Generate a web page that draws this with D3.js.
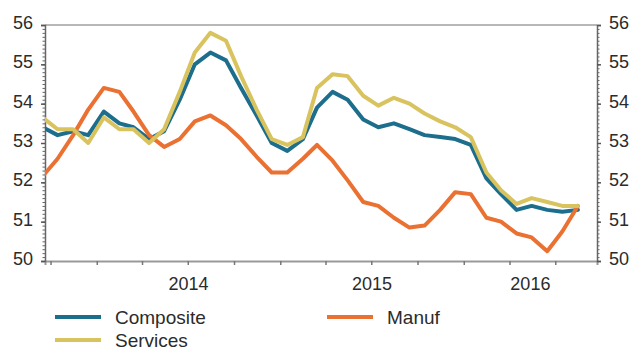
<!DOCTYPE html>
<html>
<head>
<meta charset="utf-8">
<script src="https://cdn.jsdelivr.net/npm/d3@7/dist/d3.min.js"></script>
<style>
  html, body { margin: 0; padding: 0; background: #fff; }
  svg { display: block; }
  text { font-family: "Liberation Sans", Arial, sans-serif; fill: #2b2b2b; }
</style>
</head>
<body>
<svg id="chart" width="635" height="352"></svg>
<script>
// Monthly PMI readings, Sep 2013 – Aug 2016
const months = [
  "2013-09","2013-10","2013-11","2013-12",
  "2014-01","2014-02","2014-03","2014-04","2014-05","2014-06",
  "2014-07","2014-08","2014-09","2014-10","2014-11","2014-12",
  "2015-01","2015-02","2015-03","2015-04","2015-05","2015-06",
  "2015-07","2015-08","2015-09","2015-10","2015-11","2015-12",
  "2016-01","2016-02","2016-03","2016-04","2016-05","2016-06",
  "2016-07","2016-08"
];
const composite = [
  53.4, 53.2, 53.3, 53.2,
  53.8, 53.5, 53.4, 53.1, 53.3, 54.1,
  55.0, 55.3, 55.1, 54.4, 53.7, 53.0,
  52.8, 53.1, 53.9, 54.3, 54.1, 53.6,
  53.4, 53.5, 53.35, 53.2, 53.15, 53.1,
  52.95, 52.1, 51.7, 51.3, 51.4, 51.3,
  51.25, 51.3
];
const manuf = [
  52.15, 52.6, 53.2, 53.85,
  54.4, 54.3, 53.8, 53.2, 52.9, 53.1,
  53.55, 53.7, 53.45, 53.1, 52.65, 52.25,
  52.25, 52.6, 52.95, 52.55, 52.05, 51.5,
  51.4, 51.1, 50.85, 50.9, 51.3, 51.75,
  51.7, 51.1, 51.0, 50.7, 50.6, 50.25,
  50.75, 51.4
];
const services = [
  53.65, 53.35, 53.35, 53.0,
  53.65, 53.35, 53.35, 53.0, 53.35, 54.3,
  55.3, 55.8, 55.6, 54.7, 53.85, 53.1,
  52.95, 53.15, 54.4, 54.75, 54.7, 54.2,
  53.95, 54.15, 54.0, 53.75, 53.55, 53.4,
  53.15, 52.25, 51.8, 51.45, 51.6, 51.5,
  51.4, 51.4
];
const yTicks = [50, 51, 52, 53, 54, 55, 56];
const yearLabels = ["2014", "2015", "2016"];

const seriesList = [
  { name: "Composite", values: composite, color: "#1d6e8c" },
  { name: "Manuf",     values: manuf,     color: "#ea7132" },
  { name: "Services",  values: services,  color: "#d9c35f" }
];

const svg = d3.select("#chart");
const plot = { left: 45, right: 597, top: 25, bottom: 261 };

const parseMonth = d3.timeParse("%Y-%m");
// each monthly value sits at the middle of its month
const dates = months.map(m => d3.timeDay.offset(parseMonth(m), 14));

const x = d3.scaleTime()
  .domain([new Date(2013, 8, 20), new Date(2016, 8, 22)])
  .range([plot.left, plot.right]);
const y = d3.scaleLinear()
  .domain([50, 56])
  .range([plot.bottom, plot.top]);

svg.append("defs").append("clipPath").attr("id", "plot-clip")
  .append("rect")
  .attr("x", plot.left).attr("y", plot.top - 5)
  .attr("width", plot.right - plot.left).attr("height", plot.bottom - plot.top + 5);

// top frame line
svg.append("line")
  .attr("x1", plot.left).attr("x2", plot.right)
  .attr("y1", plot.top).attr("y2", plot.top)
  .attr("stroke", "#b8b8b8").attr("stroke-width", 2);

// bottom time axis: quarterly ticks
const xAxis = d3.axisBottom(x)
  .ticks(d3.timeMonth.every(3))
  .tickSize(4)
  .tickFormat("");
const gx = svg.append("g")
  .attr("transform", `translate(0,${plot.bottom})`)
  .call(xAxis);
gx.select(".domain").attr("stroke", "#999").attr("stroke-width", 2);
gx.selectAll(".tick line").attr("stroke", "#777").attr("stroke-width", 1.5);

// year labels, centred on the visible part of each year
const [d0, d1] = x.domain();
svg.append("g").selectAll("text")
  .data(yearLabels)
  .join("text")
  .attr("x", yr => {
    const s = new Date(+yr, 0, 1), e = new Date(+yr + 1, 0, 1);
    const a = x(s < d0 ? d0 : s), b = x(e > d1 ? d1 : e);
    return (a + b) / 2;
  })
  .attr("y", 290)
  .attr("text-anchor", "middle")
  .attr("font-size", 18)
  .text(d => d);

// left and right value axes with fine minor ticks
function valueAxis(side) {
  const isLeft = side === "left";
  const xPos = isLeft ? plot.left : plot.right;
  const minor = d3.range(500, 561).map(v => v / 10);
  const axisFn = isLeft ? d3.axisLeft : d3.axisRight;
  const gMinor = svg.append("g")
    .attr("transform", `translate(${xPos},0)`)
    .call(axisFn(y).tickValues(minor).tickSize(2.5).tickFormat(""));
  gMinor.select(".domain").remove();
  gMinor.selectAll(".tick line").attr("stroke", "#666").attr("stroke-width", 1);

  const g = svg.append("g")
    .attr("transform", `translate(${xPos},0)`)
    .call(axisFn(y).tickValues(yTicks).tickSize(4).tickPadding(8).tickFormat(d3.format("d")));
  g.select(".domain").attr("stroke", "#666").attr("stroke-width", 1.5);
  g.selectAll(".tick line").attr("stroke", "#555").attr("stroke-width", 1.5);
  g.selectAll(".tick text")
    .attr("font-size", 18)
    .attr("fill", "#2b2b2b")
    .attr("font-family", "'Liberation Sans', Arial, sans-serif")
    .attr("dy", "0.2em");
}
valueAxis("left");
valueAxis("right");

// series lines
const line = d3.line()
  .x((d, i) => x(dates[i]))
  .y(d => y(d));

svg.append("g")
  .attr("clip-path", "url(#plot-clip)")
  .selectAll("path")
  .data(seriesList)
  .join("path")
  .attr("d", s => line(s.values))
  .attr("fill", "none")
  .attr("stroke", s => s.color)
  .attr("stroke-width", 4)
  .attr("stroke-linejoin", "round")
  .attr("stroke-linecap", "round");

// legend
const legendItems = [
  { series: seriesList[0], lx: 55,  ly: 317 },
  { series: seriesList[1], lx: 327, ly: 317 },
  { series: seriesList[2], lx: 55,  ly: 340 }
];
const lg = svg.append("g").selectAll("g")
  .data(legendItems)
  .join("g")
  .attr("transform", d => `translate(${d.lx},${d.ly})`);
lg.append("line")
  .attr("x1", 0).attr("x2", 46)
  .attr("y1", 0).attr("y2", 0)
  .attr("stroke", d => d.series.color)
  .attr("stroke-width", 4);
lg.append("text")
  .attr("x", 60)
  .attr("y", 0)
  .attr("dy", "0.36em")
  .attr("font-size", 19)
  .text(d => d.series.name);
</script>
</body>
</html>
